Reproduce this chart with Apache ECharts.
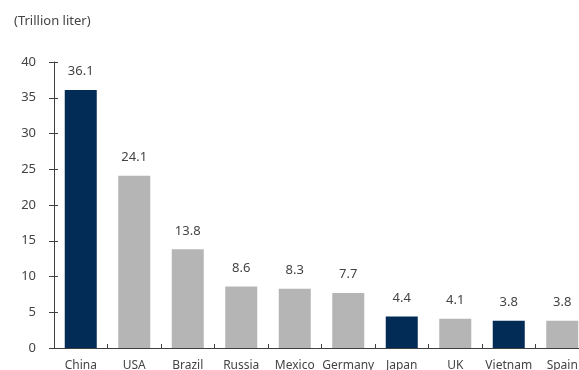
<!DOCTYPE html>
<html>
<head>
<meta charset="utf-8">
<script src="https://cdn.jsdelivr.net/npm/echarts@6/dist/echarts.min.js"></script>
<style>
  html, body { margin: 0; padding: 0; background: #fff; }
  #chart { width: 579px; height: 370px; }
</style>
</head>
<body>
<div id="chart"></div>
<script>
// Countries and their volume in trillion liters
const countries = ['China', 'USA', 'Brazil', 'Russia', 'Mexico', 'Germany', 'Japan', 'UK', 'Vietnam', 'Spain'];
const volumes = [36.1, 24.1, 13.8, 8.6, 8.3, 7.7, 4.4, 4.1, 3.8, 3.8];
const highlighted = ['China', 'Japan', 'Vietnam'];
const yTicks = [0, 5, 10, 15, 20, 25, 30, 35, 40];

const NAVY = '#022b55';
const GREY = '#b5b5b5';
const AXIS = '#404040';
const FONT = '"Noto Sans", sans-serif';

const chart = echarts.init(document.getElementById('chart'));
chart.setOption({
  animation: false,
  title: {
    text: '(Trillion liter)',
    left: 9, top: 10,
    textStyle: { fontFamily: FONT, fontSize: 13, fontWeight: 'normal', color: '#444' }
  },
  // the plot area deliberately runs a little past the right and bottom edges
  grid: { left: 54, top: 62, width: 535, height: 286, containLabel: false, outerBoundsMode: 'none' },
  xAxis: {
    type: 'category',
    data: countries,
    axisLine: { lineStyle: { color: AXIS, width: 1 } },
    axisTick: { show: true, inside: true, length: 4, alignWithLabel: false, lineStyle: { color: AXIS } },
    axisLabel: { fontFamily: FONT, fontSize: 12, color: '#444', margin: 12, interval: 0 }
  },
  yAxis: [{
    type: 'value',
    min: yTicks[0], max: yTicks[yTicks.length - 1], interval: 5,
    splitLine: { show: false },
    axisLine: { show: true, lineStyle: { color: AXIS, width: 1 } },
    axisTick: { show: true, length: 5, lineStyle: { color: AXIS } },
    axisLabel: { fontFamily: FONT, fontSize: 13, color: '#444', margin: 18 }
  }, {
    // inner half of the cross ticks on the value axis
    type: 'value', position: 'left',
    min: yTicks[0], max: yTicks[yTicks.length - 1], interval: 5,
    splitLine: { show: false },
    axisLine: { show: false },
    axisTick: { show: true, inside: true, length: 4, lineStyle: { color: AXIS } },
    axisLabel: { show: false }
  }],
  series: [{
    type: 'bar',
    barWidth: 32,
    data: countries.map((c, i) => ({
      value: volumes[i],
      itemStyle: { color: highlighted.includes(c) ? NAVY : GREY }
    })),
    label: {
      show: true, position: 'top', distance: 12,
      fontFamily: FONT, fontSize: 13, color: '#444',
      formatter: p => p.value.toFixed(1)
    }
  }]
});
</script>
</body>
</html>
